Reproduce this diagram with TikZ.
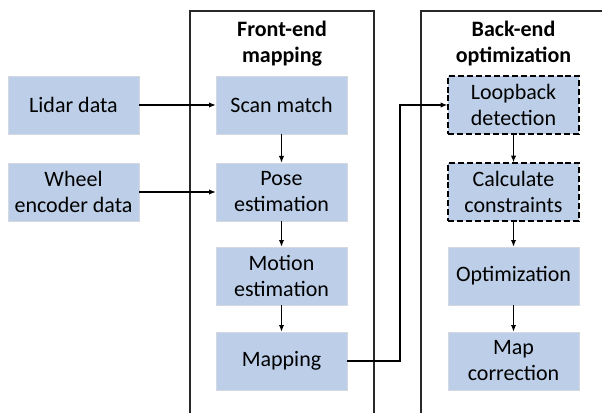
\documentclass[tikz,border=0pt]{standalone}
\usepackage{fontspec}
\setmainfont{Carlito}
\usetikzlibrary{arrows.meta}
\definecolor{boxfill}{RGB}{189,207,232}
\definecolor{boxedge}{RGB}{212,216,224}
\definecolor{frame}{RGB}{40,40,40}
\tikzset{
  blk/.style={fill=boxfill, draw=boxedge, line width=0.5pt, minimum width=98.25pt, minimum height=43.5pt, inner sep=0pt, align=center, font=\fontsize{16.5}{19.5}\selectfont},
  dblk/.style={blk, draw=black, line width=1.1pt, dash pattern=on 4.5pt off 2.2pt},
  ttl/.style={anchor=base, inner sep=0pt, font=\fontsize{16.5}{19.5}\selectfont\bfseries},
  con/.style={line width=0.8pt, -{Latex[length=5pt,width=4pt]}},
  frm/.style={draw=frame, line width=1pt}
}
\begin{document}
\begin{tikzpicture}[x=0.75pt,y=-0.75pt]
\useasboundingbox (0,0) rectangle (602,413);
\fill[white] (0,0) rectangle (602,413);
% containers
\draw[frm] (190,420) -- (190,11) -- (374,11) -- (374,420);
\draw[frm] (421,420) -- (421,11) -- (610,11);
\node[ttl] (t1a) at (282,37) {Front-end};
\node[ttl] (t1b) at (282,63) {mapping};
\node[ttl] (t2a) at (513.5,37) {Back-end};
\node[ttl] (t2b) at (513.5,63) {optimization};
% boxes
\node[blk] (lidar) at (73.5,105) {Lidar data};
\node[blk] (wheel) at (73.5,192) {Wheel\\encoder data};
\node[blk] (scan) at (281.5,105) {Scan match};
\node[blk] (pose) at (281.5,192) {Pose\\estimation};
\node[blk] (motion) at (281.5,276) {Motion\\estimation};
\node[blk] (mapping) at (281.5,361) {Mapping};
\node[dblk] (loop) at (513.5,105) {Loopback\\detection};
\node[dblk] (calc) at (513.5,192) {Calculate\\constraints};
\node[blk] (opt) at (513.5,276) {Optimization};
\node[blk] (corr) at (513.5,361) {Map\\correction};
% connectors
\draw[con] (lidar) -- (scan);
\draw[con] (wheel) -- (pose);
\draw[con] (scan) -- (pose);
\draw[con] (pose) -- (motion);
\draw[con] (motion) -- (mapping);
\coordinate (bend) at (400,361);
\draw[con] (mapping.east) -- (bend) |- (loop.west);
\draw[con] (loop) -- (calc);
\draw[con] (calc) -- (opt);
\draw[con] (opt) -- (corr);
\end{tikzpicture}
\end{document}
